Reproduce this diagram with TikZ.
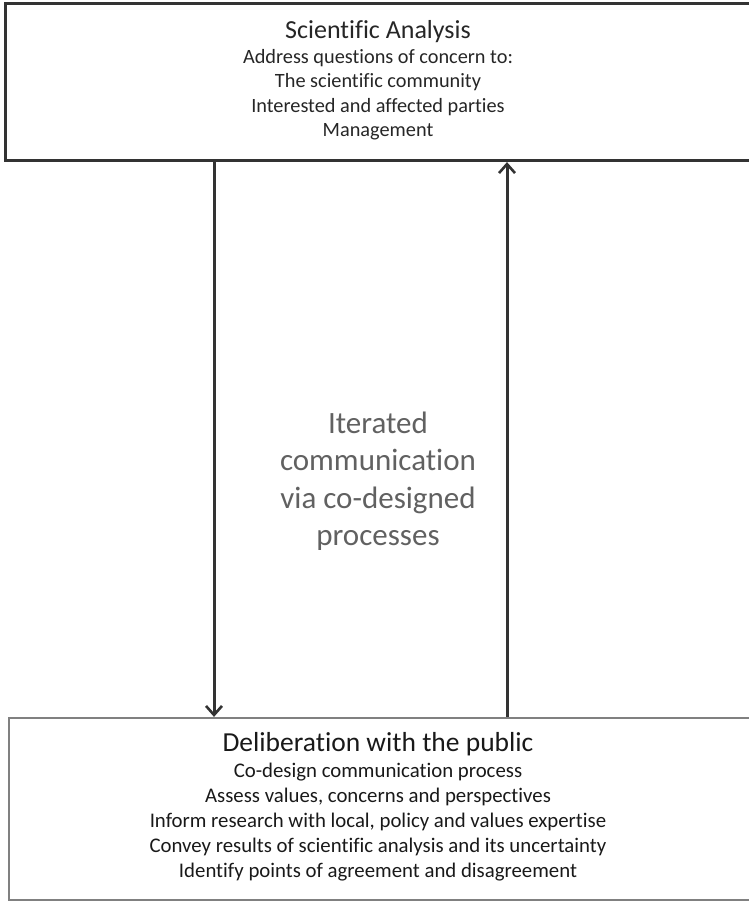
\documentclass[tikz,border=0pt]{standalone}
\usepackage{fontspec}
\setmainfont{Carlito}[Ligatures=NoCommon]
\usetikzlibrary{arrows.meta}
\begin{document}
\begin{tikzpicture}[x=1pt,y=-1pt,
  box/.style={draw,inner sep=0pt},
  txt/.style={inner sep=0pt,anchor=base},
  toptxt/.style={txt,font=\fontsize{20.3}{22}\selectfont,text=black!85},
  bottxt/.style={txt,font=\fontsize{20.8}{22}\selectfont,text=black!90},
  arr/.style={draw=black!80,line width=3pt,-{Straight Barb[length=9pt,width=16pt,line width=2.6pt]}}]
\useasboundingbox (0,0) rectangle (749,902);
\clip (0,0) rectangle (749,902);
% boxes
\node[box,draw=black!80,line width=3.2pt,minimum width=747pt,minimum height=157pt] (sci) at (379,82) {};
\node[box,draw=black!50,line width=2.2pt,minimum width=744pt,minimum height=182pt] (del) at (381,809) {};
% texts top
\node[txt,font=\fontsize{26}{28}\selectfont,text=black!85] (t0) at (378,38) {Scientific Analysis};
\node[toptxt] (t1) at (378,63) {Address questions of concern to:};
\node[toptxt] (t2) at (378,87.5) {The scientific community};
\node[toptxt] (t3) at (378,112) {Interested and affected parties};
\node[toptxt] (t4) at (378,136.5) {Management};
% middle
\node[inner sep=0pt,font=\fontsize{31}{37.5}\selectfont,text=black!62,align=center] (mid) at (378,481)
  {Iterated\\communication\\via co-designed\\processes};
% bottom texts
\node[txt,font=\fontsize{27.5}{30}\selectfont,text=black!90] (b0) at (378,751) {Deliberation with the public};
\node[bottxt] (b1) at (378,777) {Co-design communication process};
\node[bottxt] (b2) at (378,802) {Assess values, concerns and perspectives};
\node[bottxt] (b3) at (378,827) {Inform research with local, policy and values expertise};
\node[bottxt] (b4) at (378,852) {Convey results of scientific analysis and its uncertainty};
\node[bottxt] (b5) at (378,877) {Identify points of agreement and disagreement};
% arrows
\coordinate (xd) at (214,0);
\coordinate (xu) at (507,0);
\draw[arr] (sci.south -| xd) -- (del.north -| xd);
\draw[arr] (del.north -| xu) -- (sci.south -| xu);
\end{tikzpicture}
\end{document}
